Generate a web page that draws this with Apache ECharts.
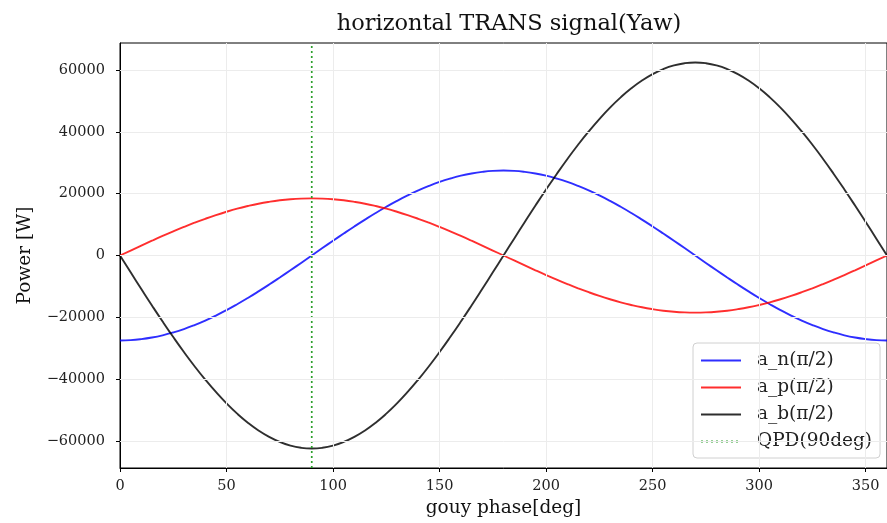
<!DOCTYPE html>
<html>
<head>
<meta charset="utf-8">
<script src="https://cdn.jsdelivr.net/npm/echarts@6/dist/echarts.min.js"></script>
<style>
  html, body { margin: 0; padding: 0; background: #fff; }
  #chart { width: 887px; height: 523px; }
</style>
</head>
<body>
<div id="chart"></div>
<script>
// Gouy phase samples [deg]
const phase = [0, 5, 10, 15, 20, 25, 30, 35, 40, 45, 50, 55, 60, 65, 70, 75, 80, 85, 90,
  95, 100, 105, 110, 115, 120, 125, 130, 135, 140, 145, 150, 155, 160, 165, 170, 175, 180,
  185, 190, 195, 200, 205, 210, 215, 220, 225, 230, 235, 240, 245, 250, 255, 260, 265, 270,
  275, 280, 285, 290, 295, 300, 305, 310, 315, 320, 325, 330, 335, 340, 345, 350, 355, 360];

// Power [W] per mode
const aN = [-27500, -27400, -27080, -26560, -25840, -24920, -23820, -22530, -21070, -19450,
  -17680, -15770, -13750, -11620, -9410, -7120, -4780, -2400, 0,
  2400, 4780, 7120, 9410, 11620, 13750, 15770, 17680, 19450, 21070,
  22530, 23820, 24920, 25840, 26560, 27080, 27400, 27500,
  27400, 27080, 26560, 25840, 24920, 23820, 22530, 21070, 19450, 17680,
  15770, 13750, 11620, 9410, 7120, 4780, 2400, 0,
  -2400, -4780, -7120, -9410, -11620, -13750, -15770, -17680, -19450, -21070,
  -22530, -23820, -24920, -25840, -26560, -27080, -27400, -27500];
const aP = [0, 1610, 3210, 4790, 6330, 7820, 9250, 10610, 11890, 13080,
  14170, 15160, 16020, 16770, 17380, 17870, 18220, 18430, 18500,
  18430, 18220, 17870, 17380, 16770, 16020, 15160, 14170, 13080, 11890,
  10610, 9250, 7820, 6330, 4790, 3210, 1610, 0,
  -1610, -3210, -4790, -6330, -7820, -9250, -10610, -11890, -13080, -14170,
  -15160, -16020, -16770, -17380, -17870, -18220, -18430, -18500,
  -18430, -18220, -17870, -17380, -16770, -16020, -15160, -14170, -13080, -11890,
  -10610, -9250, -7820, -6330, -4790, -3210, -1610, 0];
const aB = [0, -5450, -10850, -16180, -21380, -26410, -31250, -35850, -40170, -44190,
  -47880, -51200, -54130, -56640, -58730, -60370, -61550, -62260, -62500,
  -62260, -61550, -60370, -58730, -56640, -54130, -51200, -47880, -44190, -40170,
  -35850, -31250, -26410, -21380, -16180, -10850, -5450, 0,
  5450, 10850, 16180, 21380, 26410, 31250, 35850, 40170, 44190, 47880,
  51200, 54130, 56640, 58730, 60370, 61550, 62260, 62500,
  62260, 61550, 60370, 58730, 56640, 54130, 51200, 47880, 44190, 40170,
  35850, 31250, 26410, 21380, 16180, 10850, 5450, 0];

// QPD reference phase [deg]
const qpdPhase = 90;

const seriesNames = ['a_n(\u03c0/2)', 'a_p(\u03c0/2)', 'a_b(\u03c0/2)', 'QPD(90deg)'];
const xTicks = [0, 50, 100, 150, 200, 250, 300, 350];
const yTicks = [-60000, -40000, -20000, 0, 20000, 40000, 60000];
const yMin = -68800, yMax = 68800;

const FONT = 'DejaVu Serif';
const pair = (xs, ys) => xs.map((x, i) => [x, ys[i]]);
// plain integers with a true minus sign, no thousands separator
const fmt = v => (v < 0 ? '\u2212' + Math.abs(v) : String(v));

const chart = echarts.init(document.getElementById('chart'), null, { renderer: 'canvas' });
chart.setOption({
  animation: false,
  backgroundColor: '#fff',
  title: {
    text: 'horizontal TRANS signal(Yaw)',
    left: 504, top: 8, textAlign: 'center',
    textStyle: { fontFamily: FONT, fontSize: 22.5, fontWeight: 'normal', color: '#111' }
  },
  grid: {
    left: 120, top: 43, right: -2, bottom: 54,
    show: true, borderColor: '#000', borderWidth: 1, backgroundColor: 'transparent'
  },
  xAxis: {
    type: 'value', min: 0, max: 360,
    name: 'gouy phase[deg]', nameLocation: 'middle', nameGap: 31,
    nameTextStyle: { fontFamily: FONT, fontSize: 18.5, color: '#111' },
    axisLine: { show: true, onZero: false, lineStyle: { color: '#000', width: 1 } },
    axisTick: { show: true, inside: false, length: 4, customValues: xTicks, lineStyle: { color: '#000' } },
    axisLabel: { customValues: xTicks, formatter: fmt, fontFamily: FONT, fontSize: 14.5, color: '#222', margin: 11 },
    splitLine: { show: false }
  },
  yAxis: {
    type: 'value', min: yMin, max: yMax,
    name: 'Power [W]', nameLocation: 'middle', nameGap: 85,
    nameTextStyle: { fontFamily: FONT, fontSize: 18.5, color: '#111' },
    axisLine: { show: true, onZero: false, lineStyle: { color: '#000', width: 1 } },
    axisTick: { show: true, inside: false, length: 4, customValues: yTicks, lineStyle: { color: '#000' } },
    axisLabel: { customValues: yTicks, formatter: fmt, fontFamily: FONT, fontSize: 14.5, color: '#222', margin: 15 },
    splitLine: { show: false }
  },
  legend: {
    orient: 'vertical', left: 693, top: 343,
    padding: [7, 8, 6, 7], itemGap: 6, itemWidth: 40, itemHeight: 14,
    backgroundColor: 'rgba(255,255,255,0.85)', borderColor: '#d0d0d0', borderWidth: 1, borderRadius: 4,
    itemStyle: { opacity: 0 },
    textStyle: { fontFamily: FONT, fontSize: 18.5, lineHeight: 21, color: '#222', padding: [0, 0, 0, 11], width: 114 },
    data: seriesNames
  },
  series: [
    {
      // grid lines at the tick positions
      name: 'grid', type: 'line', data: [], silent: true,
      markLine: {
        silent: true, symbol: 'none', label: { show: false },
        lineStyle: { color: '#ececec', width: 1, type: 'solid' },
        data: xTicks.filter(v => v > 0).map(v => ({ xAxis: v }))
          .concat(yTicks.map(v => ({ yAxis: v })))
      }
    },
    {
      name: seriesNames[0], type: 'line', data: pair(phase, aN), smooth: true,
      showSymbol: false, symbol: 'none', color: 'rgba(0,0,255,0.82)',
      lineStyle: { width: 1.9, color: 'rgba(0,0,255,0.82)' }
    },
    {
      name: seriesNames[1], type: 'line', data: pair(phase, aP), smooth: true,
      showSymbol: false, symbol: 'none', color: 'rgba(255,0,0,0.82)',
      lineStyle: { width: 1.9, color: 'rgba(255,0,0,0.82)' }
    },
    {
      name: seriesNames[2], type: 'line', data: pair(phase, aB), smooth: true,
      showSymbol: false, symbol: 'none', color: 'rgba(0,0,0,0.82)',
      lineStyle: { width: 1.9, color: 'rgba(0,0,0,0.82)' }
    },
    {
      name: seriesNames[3], type: 'line', data: [[qpdPhase, yMin], [qpdPhase, yMax]],
      showSymbol: false, symbol: 'none', color: '#2ca02c',
      lineStyle: { width: 1.7, color: '#2ca02c', type: [2, 3] }
    }
  ]
});
</script>
</body>
</html>
